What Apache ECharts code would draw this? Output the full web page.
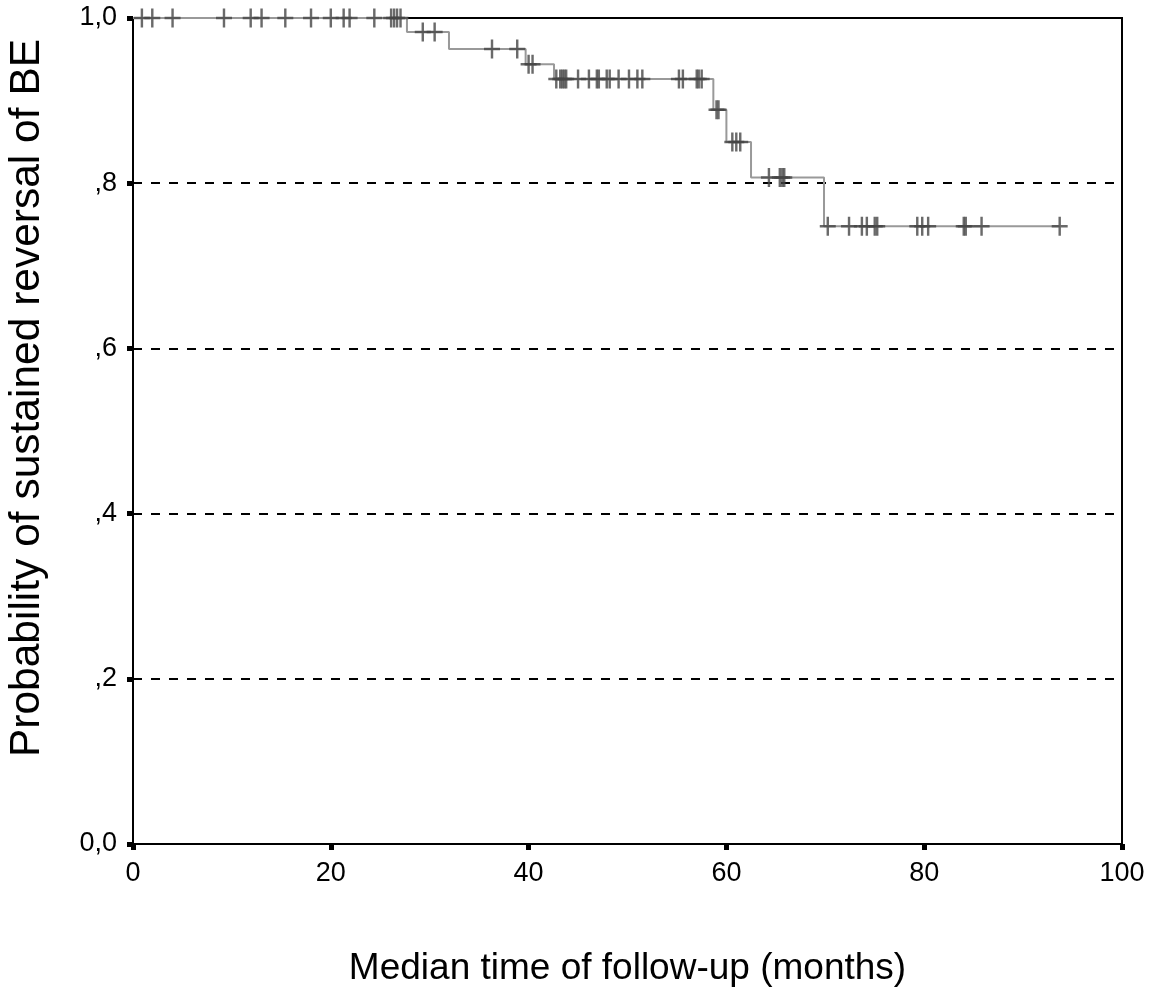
<!DOCTYPE html>
<html>
<head>
<meta charset="utf-8">
<script src="https://cdn.jsdelivr.net/npm/echarts@6/dist/echarts.min.js"></script>
<style>
  html, body { margin: 0; padding: 0; background: #fff; }
  #chart { width: 1159px; height: 987px; }
</style>
</head>
<body>
<div id="chart"></div>
<script>
// Kaplan-Meier steps: time (months) where the curve drops, and the level after it
const stepTimes = [0, 27.7, 31.95, 39.7, 42.57, 58.68, 60.0, 62.49, 69.87];
const stepSurvival = [1.0, 0.983, 0.9625, 0.944, 0.926, 0.889, 0.85, 0.807, 0.748];
const lastFollowUp = 93.7;

// censored observations (months)
const censorTimes = [
  0.9, 1.95, 4.0, 9.2, 11.9, 13.0, 15.4, 18.0, 20.0, 21.3, 21.9, 24.4, 26.1, 26.4, 26.7, 27.05,
  29.3, 30.5,
  36.3, 38.85,
  40.0, 40.4,
  42.8, 43.2, 43.4, 43.6, 43.8, 45.0, 46.1, 46.9, 47.1, 47.9, 48.2, 49.1, 50.15, 51.0, 51.5,
  55.2, 55.6, 57.0, 57.2, 57.5,
  59.0, 59.2,
  60.6, 61.0, 61.4,
  64.3, 65.4, 65.65, 65.85,
  70.25, 72.4, 73.7, 74.2, 75.0, 75.25, 79.3, 79.8, 80.4, 84.0, 84.2, 85.8, 93.7
];

const xTickLabels = ['0', '20', '40', '60', '80', '100'];
const yTickLabels = ['0,0', ',2', ',4', ',6', ',8', '1,0'];

const xTitle = 'Median time of follow-up (months)';
const yTitle = 'Probability of sustained reversal of BE';

// survival level at time t (right-continuous step function)
function levelAt(t) {
  let s = stepSurvival[0];
  for (let i = 0; i < stepTimes.length; i++) {
    if (stepTimes[i] <= t) s = stepSurvival[i];
  }
  return s;
}

const stepData = stepTimes.map((t, i) => [t, stepSurvival[i]]);
stepData.push([lastFollowUp, stepSurvival[stepSurvival.length - 1]]);

const censorData = censorTimes.map(t => [t, levelAt(t)]);

const plusPath = 'path://M7,0L9.5,0L9.5,8.25L16.5,8.25L16.5,10.75L9.5,10.75L9.5,19L7,19L7,10.75L0,10.75L0,8.25L7,8.25Z';

const font = 'Liberation Sans, Arial, sans-serif';

const chart = echarts.init(document.getElementById('chart'));

chart.setOption({
  animation: false,
  backgroundColor: '#fff',
  grid: {
    left: 133, right: 37, top: 18, bottom: 143,
    outerBoundsMode: 'none',
    containLabel: false,
    show: true, borderColor: '#000', borderWidth: 2
  },
  xAxis: {
    type: 'value',
    min: 0, max: 100, interval: 20,
    name: xTitle,
    nameLocation: 'middle',
    nameGap: 106,
    nameTextStyle: { fontFamily: font, fontSize: 37, color: '#000' },
    axisLine: { show: true, lineStyle: { color: '#000', width: 2 } },
    axisTick: { show: true, length: 6, lineStyle: { color: '#000', width: 5 } },
    axisLabel: {
      margin: 16, fontFamily: font, fontSize: 27, color: '#000',
      formatter: (v) => xTickLabels[Math.round(v / 20)]
    },
    splitLine: { show: false }
  },
  yAxis: {
    type: 'value',
    min: 0, max: 1, interval: 0.2,
    name: yTitle,
    nameLocation: 'middle',
    nameRotate: 90,
    nameGap: 84,
    nameTextStyle: { fontFamily: font, fontSize: 42.5, color: '#000', padding: [0, 0, 0, 66] },
    axisLine: { show: true, lineStyle: { color: '#000', width: 2 } },
    axisTick: { show: true, length: 6, lineStyle: { color: '#000', width: 5 } },
    axisLabel: {
      margin: 16, fontFamily: font, fontSize: 27, color: '#000',
      formatter: (v) => yTickLabels[Math.round(v * 5)]
    },
    splitLine: { show: true, lineStyle: { color: '#000', width: 2, type: [9, 9] } }
  },
  series: [
    {
      name: 'survival',
      type: 'line',
      step: 'end',
      data: stepData,
      showSymbol: false,
      lineStyle: { color: '#999', width: 2 },
      z: 3
    },
    {
      name: 'censored',
      type: 'scatter',
      data: censorData,
      symbol: plusPath,
      symbolSize: [16, 19],
      itemStyle: { color: '#454545' },
      z: 4
    }
  ]
});
</script>
</body>
</html>
